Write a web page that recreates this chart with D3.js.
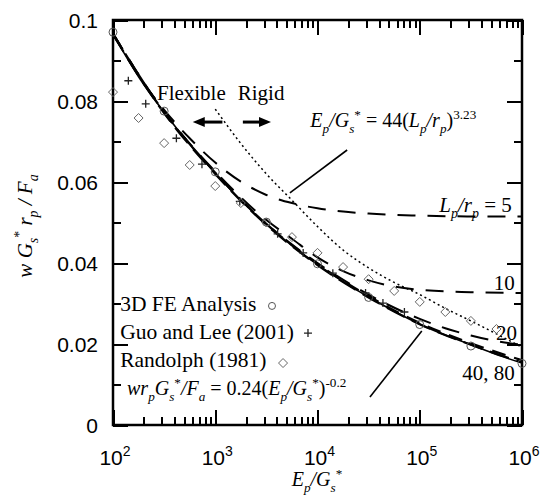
<!DOCTYPE html>
<html>
<head>
<meta charset="UTF-8" />
<style>
  body { margin: 0; background: #ffffff; }
  .tick line { stroke: #000; stroke-width: 2px; shape-rendering: crispEdges; }
  .domain { display: none; }
  .serif { font-family: 'Liberation Serif', 'Times New Roman', Times, 'DejaVu Serif', serif; }
  .sans { font-family: 'Liberation Sans', Arial, Helvetica, sans-serif; }
</style>
</head>
<body>
<script src="https://d3js.org/d3.v7.min.js"></script>
<script>
'use strict';
// values, x given as log10(Ep/Gs*)
const feLog = [2, 2.5, 3, 3.5, 4, 4.5, 5, 5.5, 6];
const feVal = [0.097, 0.0775, 0.0625, 0.0501, 0.0398, 0.0315, 0.0248, 0.0195, 0.0152];
const guoLog = [2.15, 2.32, 2.62, 2.87, 3.24, 3.61, 3.86, 4.15, 4.47, 4.64, 4.85];
const guoVal = [0.085, 0.0793, 0.0708, 0.0644, 0.0552, 0.0472, 0.0425, 0.0375, 0.0326, 0.0301, 0.0279];
const randLog = [2, 2.25, 2.5, 2.75, 3, 3.25, 3.5, 3.75, 4, 4.25, 4.5, 4.75, 5, 5.25, 5.5, 5.75];
const randVal = [0.0822, 0.0758, 0.0696, 0.0642, 0.059, 0.0548, 0.050, 0.0464, 0.0425, 0.039, 0.036, 0.0331, 0.0304, 0.0279, 0.0257, 0.0237];

const fitLog = [2, 2.25, 2.5, 2.75, 3, 3.25, 3.5, 3.75, 4, 4.25, 4.5, 4.75, 5, 5.25, 5.5, 5.75, 6];
const fitVal = [0.0965, 0.086, 0.0772, 0.0693, 0.0622, 0.0555, 0.0495, 0.0443, 0.0396, 0.0354, 0.0316, 0.0281, 0.0249, 0.0222, 0.0198, 0.0174, 0.0153];

const l5Log = [2, 2.25, 2.5, 2.75, 3, 3.25, 3.5, 3.75, 4, 4.5, 5, 5.5, 6];
const l5Val = [0.0968, 0.0862, 0.0778, 0.0708, 0.0648, 0.0601, 0.0568, 0.0548, 0.0535, 0.0522, 0.0517, 0.0515, 0.0515];
const l10Log = [2, 2.5, 3, 3.5, 3.75, 4, 4.25, 4.5, 4.75, 5, 5.5, 6];
const l10Val = [0.0966, 0.0773, 0.0626, 0.0506, 0.046, 0.0414, 0.0380, 0.0357, 0.0342, 0.0334, 0.0328, 0.0326];
const l20Log = [2, 2.5, 3, 3.5, 4, 4.5, 5, 5.25, 5.5, 5.75, 6];
const l20Val = [0.0966, 0.0773, 0.0623, 0.0497, 0.0400, 0.0322, 0.0262, 0.0239, 0.0221, 0.0207, 0.0198];
const l40Log = [2, 2.5, 3, 3.5, 4, 4.5, 5, 5.5, 6];
const l40Val = [0.0966, 0.0772, 0.0623, 0.0496, 0.0398, 0.0318, 0.0252, 0.0202, 0.016];
const l80Log = [2, 2.5, 3, 3.5, 4, 4.5, 5, 5.5, 6];
const l80Val = [0.0964, 0.077, 0.062, 0.0494, 0.0395, 0.0315, 0.0249, 0.0198, 0.0155];

const boundLog = [3, 3.25, 3.5, 3.75, 4, 4.25, 4.5, 4.75, 5, 5.25, 5.5, 5.75, 6];
const boundVal = [0.078, 0.0695, 0.062, 0.0555, 0.049, 0.0432, 0.0388, 0.0352, 0.0322, 0.0288, 0.0257, 0.0225, 0.0192];

const yTickVals = [0, 0.02, 0.04, 0.06, 0.08, 0.1];
const yTickLabels = ['0', '0.02', '0.04', '0.06', '0.08', '0.1'];
const xTickExp = ['2', '3', '4', '5', '6'];

const svg = d3.select('body').append('svg')
  .attr('width', 540).attr('height', 496);
svg.append('rect').attr('width', 540).attr('height', 496).attr('fill', '#fff');

const x = d3.scaleLog().domain([1e2, 1e6]).range([113, 522]);
const y = d3.scaleLinear().domain([0, 0.1]).range([425, 20]);
const px = e => x(Math.pow(10, e));

const allTicks = x.ticks();
const majX = allTicks.filter(d => Math.abs(Math.log10(d) - Math.round(Math.log10(d))) < 1e-9);
const minX = allTicks.filter(d => !majX.includes(d));
const majY = yTickVals;
const minY = d3.range(0.01, 0.1, 0.02);

// ticks on all four sides, pointing inward
function addAxis(axisFn, pos, vals, size) {
  svg.append('g').attr('transform', pos)
    .call(axisFn.tickValues(vals).tickSize(-size).tickFormat(''));
}
addAxis(d3.axisBottom(x), 'translate(0,425)', minX, 8);
addAxis(d3.axisBottom(x), 'translate(0,425)', majX, 15);
addAxis(d3.axisTop(x), 'translate(0,20)', minX, 8);
addAxis(d3.axisTop(x), 'translate(0,20)', majX, 15);
addAxis(d3.axisLeft(y), 'translate(113,0)', minY, 8);
addAxis(d3.axisLeft(y), 'translate(113,0)', majY, 15);
addAxis(d3.axisRight(y), 'translate(522,0)', minY, 8);
addAxis(d3.axisRight(y), 'translate(522,0)', majY, 15);

svg.append('rect')
  .attr('x', 113).attr('y', 20).attr('width', 409).attr('height', 405)
  .attr('fill', 'none').attr('stroke', '#000').attr('stroke-width', 2.5);

// tick labels
svg.append('g').selectAll('text').data(yTickVals).join('text')
  .attr('class', 'sans')
  .attr('x', 98).attr('y', d => y(d)).attr('dy', '0.36em')
  .attr('text-anchor', 'end').attr('font-size', 21)
  .text((d, i) => yTickLabels[i]);

const xl = svg.append('g').selectAll('text').data(majX).join('text')
  .attr('class', 'sans')
  .attr('x', d => x(d) + 2).attr('y', 465)
  .attr('text-anchor', 'middle').attr('font-size', 21);
xl.append('tspan').text('10');
xl.append('tspan').attr('dy', -9).attr('font-size', 14).text((d, i) => xTickExp[i]);

// rich text with italics, subscripts and superscripts
function rich(g, x0, y0, parts, size, anchor) {
  const t = g.append('text').attr('class', 'serif')
    .attr('x', x0).attr('y', y0)
    .attr('font-size', size)
    .attr('text-anchor', anchor || 'start');
  let cur = 0;
  parts.forEach(([s, k]) => {
    let off = 0, fs = size, it = false;
    if (k === 'i') it = true;
    if (k === 'b') { off = 0.3 * size; fs = 0.66 * size; it = true; }
    if (k === 'p') { off = -0.4 * size; fs = 0.66 * size; }
    t.append('tspan').attr('dy', off - cur).attr('font-size', fs)
      .attr('font-style', it ? 'italic' : 'normal').text(s);
    cur = off;
  });
  return t;
}

// axis titles
rich(svg, 317, 486, [['E', 'i'], ['p', 'b'], ['/G', 'i'], ['s', 'b'], ['*', 'p']], 20, 'middle');
const yt = svg.append('g').attr('transform', 'translate(32,226) rotate(-90)');
rich(yt, 0, 0, [['w G', 'i'], ['s', 'b'], ['*', 'p'], [' r', 'i'], ['p', 'b'], [' / F', 'i'], ['a', 'b']], 21, 'middle');

// curves
const line = d3.line()
  .x(d => px(d[0])).y(d => y(d[1]))
  .curve(d3.curveMonotoneX);
const zipped = (a, b) => a.map((v, i) => [v, b[i]]);

function curve(lg, vl, dash, w) {
  svg.append('path').datum(zipped(lg, vl))
    .attr('d', line).attr('fill', 'none').attr('stroke', '#000')
    .attr('stroke-width', w).attr('stroke-dasharray', dash);
}
curve(l80Log, l80Val, '20,8', 2.2);
curve(l40Log, l40Val, '14,9', 2.2);
curve(l20Log, l20Val, '18,12', 2);
curve(l10Log, l10Val, '18,12', 2);
curve(l5Log, l5Val, '18,12', 2);
curve(fitLog, fitVal, null, 1.6);
curve(boundLog, boundVal, '2,3', 1.5);

// markers
svg.append('g').selectAll('circle').data(zipped(feLog, feVal)).join('circle')
  .attr('cx', d => px(d[0])).attr('cy', d => y(d[1])).attr('r', 4)
  .attr('fill', 'none').attr('stroke', '#555').attr('stroke-width', 1);

const diamond = 'M0,-4.5L4.5,0L0,4.5L-4.5,0Z';
const cross = 'M-4,0H4M0,-4V4';
svg.append('g').selectAll('path').data(zipped(guoLog, guoVal)).join('path')
  .attr('transform', d => `translate(${px(d[0])},${y(d[1])})`)
  .attr('d', cross).attr('stroke', '#222').attr('stroke-width', 1.3).attr('fill', 'none');
svg.append('g').selectAll('path').data(zipped(randLog, randVal)).join('path')
  .attr('transform', d => `translate(${px(d[0])},${y(d[1])})`)
  .attr('d', diamond).attr('stroke', '#666').attr('stroke-width', 1).attr('fill', 'none');

// legend
const lg = svg.append('g');
rich(lg, px(2.07), y(0.0281), [['3D FE Analysis', 'r']], 21.5);
rich(lg, px(2.07), y(0.0212), [['Guo and Lee (2001)', 'r']], 21.5);
rich(lg, px(2.07), y(0.0143), [['Randolph (1981)', 'r']], 21.5);
lg.append('circle').attr('cx', px(3.555)).attr('cy', y(0.0294)).attr('r', 3.5)
  .attr('fill', 'none').attr('stroke', '#555');
lg.append('path').attr('transform', `translate(${px(3.907)},${y(0.0227)})`)
  .attr('d', cross).attr('stroke', '#222').attr('stroke-width', 1.3);
lg.append('path').attr('transform', `translate(${px(3.663)},${y(0.0153)})`)
  .attr('d', diamond).attr('stroke', '#666').attr('fill', 'none');

// annotations
const an = svg.append('g');
rich(an, px(2.43), y(0.0802), [['Flexible', 'r']], 21);
rich(an, px(3.22), y(0.0802), [['Rigid', 'r']], 21);

function arrow(fromLog, toLog, v) {
  const x0 = px(fromLog), x1 = px(toLog), yy = y(v);
  const s = Math.sign(x1 - x0);
  an.append('line').attr('x1', x0).attr('x2', x1 - s * 9).attr('y1', yy).attr('y2', yy)
    .attr('stroke', '#000').attr('stroke-width', 3);
  an.append('path')
    .attr('d', `M${x1},${yy}L${x1 - s * 12},${yy - 5}L${x1 - s * 12},${yy + 5}Z`)
    .attr('fill', '#000');
}
arrow(3.07, 2.78, 0.0748);
arrow(3.27, 3.545, 0.0748);

rich(an, px(3.93), y(0.0736),
  [['E', 'i'], ['p', 'b'], ['/G', 'i'], ['s', 'b'], ['*', 'p'], [' = 44(', 'r'], ['L', 'i'], ['p', 'b'],
   ['/r', 'i'], ['p', 'b'], [')', 'r'], ['3.23', 'p']], 20);
an.append('line').attr('x1', px(4.29)).attr('y1', y(0.0679)).attr('x2', px(3.73)).attr('y2', y(0.0573))
  .attr('stroke', '#000').attr('stroke-width', 1.6);

rich(an, px(5.9), y(0.0526), [['L', 'i'], ['p', 'b'], ['/r', 'i'], ['p', 'b'], [' = 5', 'r']], 21, 'end');
rich(an, px(5.93), y(0.0333), [['10', 'r']], 21, 'end');
rich(an, px(5.95), y(0.021), [['20', 'r']], 21, 'end');
rich(an, px(5.93), y(0.0111), [['40, 80', 'r']], 21, 'end');

rich(an, px(2.137), y(0.0074),
  [['wr', 'i'], ['p', 'b'], ['G', 'i'], ['s', 'b'], ['*', 'p'], ['/F', 'i'], ['a', 'b'], [' = 0.24(', 'r'],
   ['E', 'i'], ['p', 'b'], ['/G', 'i'], ['s', 'b'], ['*', 'p'], [')', 'r'], ['-0.2', 'p']], 20);
an.append('line').attr('x1', px(4.513)).attr('y1', y(0.0069)).attr('x2', px(5.02)).attr('y2', y(0.0232))
  .attr('stroke', '#000').attr('stroke-width', 1.6);
</script>
</body>
</html>
